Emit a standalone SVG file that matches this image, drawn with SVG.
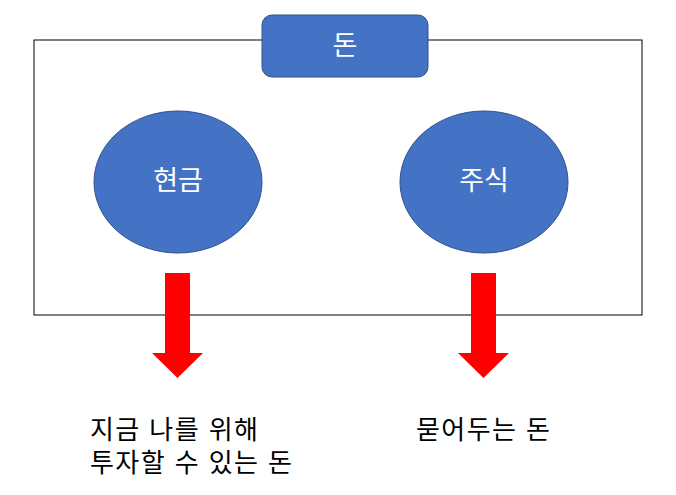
<svg xmlns="http://www.w3.org/2000/svg" width="676" height="495" viewBox="0 0 676 495">
<style>
.node{fill:#4472C4;stroke:#2F528F;stroke-width:1}
.wt{fill:#fff;font-family:"Liberation Sans","Noto Sans CJK KR",sans-serif;font-size:27px;text-anchor:middle;dominant-baseline:central}
.bt{fill:#000;font-family:"Liberation Sans","Noto Sans CJK KR",sans-serif;font-size:26px}
.arr{fill:#FF0000}
</style>
<rect x="34" y="40" width="608" height="275" fill="#fff" stroke="#000" stroke-width="1"/>
<g id="money">
<rect class="node" x="262" y="15" width="166" height="62" rx="10"/>
<text class="wt" x="345" y="46">돈</text>
</g>
<g id="cash">
<ellipse class="node" cx="178" cy="182" rx="84" ry="71"/>
<text class="wt" x="178" y="181">현금</text>
</g>
<g id="stock">
<ellipse class="node" cx="484" cy="182" rx="84" ry="71"/>
<text class="wt" x="484" y="181">주식</text>
</g>
<g id="connectors">
<polygon class="arr" points="165,273 190,273 190,353 203,353 177.5,378 152,353 165,353"/>
<polygon class="arr" points="471,273 496,273 496,353 509,353 483.5,378 458,353 471,353"/>
</g>
<g id="label-left">
<text class="bt" x="90" y="439" textLength="168" lengthAdjust="spacing">지금 나를 위해</text>
<text class="bt" x="90" y="472" textLength="202" lengthAdjust="spacing">투자할 수 있는 돈</text>
</g>
<g id="label-right">
<text class="bt" x="416" y="439" textLength="134" lengthAdjust="spacing">묻어두는 돈</text>
</g>
</svg>
